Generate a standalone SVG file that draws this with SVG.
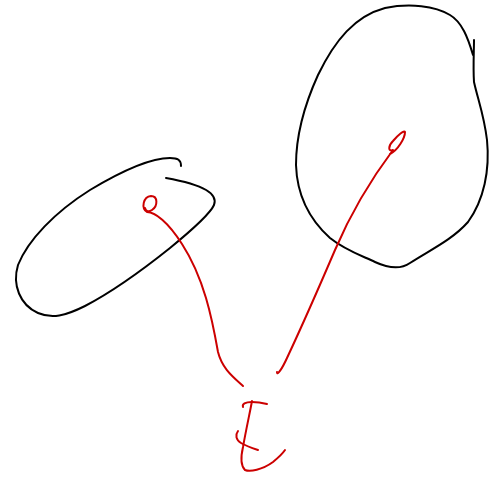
<svg xmlns="http://www.w3.org/2000/svg" width="504" height="477" viewBox="0 0 504 477">
<style>
.blk{fill:none;stroke:#000;stroke-width:2;stroke-linecap:round;stroke-linejoin:round}
.red{fill:none;stroke:#cc0000;stroke-width:2;stroke-linecap:round;stroke-linejoin:round}
</style>
<rect width="504" height="477" fill="#fff"/>
<g id="left-blob">
<path class="blk" d="M181,166 C181,160 178,158 170,158 C150,158 120,172 90,190 C55,212 28,240 18,265 C12,285 20,305 38,313 C52,319 65,316 85,306 C110,293 140,272 170,248 C192,230 210,214 214,205 C218,194 205,185 166,178"/>
</g>
<g id="right-blob">
<path class="blk" d="M473,55 C468,38 462,22 450,15 C435,6 410,3 385,8 C355,16 335,40 318,75 C303,108 296,140 296,165 C297,195 310,220 330,238 C345,250 360,255 375,262 C388,268 400,270 410,263 C430,250 452,240 468,222 C484,200 490,170 487,140 C484,115 478,100 474,82 C473,68 474,50 474,40"/>
</g>
<g id="connectors">
<path class="red" d="M243,386 C232,376 222,368 218,352 C212,318 204,278 182,244 C168,222 155,212 147,212 C141,208 143,197 151,196 C158,196 158,206 152,210 C149,212 146,212 145,208"/>
<path class="red" d="M277,372 C277,376 282,369 287,358 C302,326 320,285 335,250 C350,215 372,178 393,150 C388,152 388,146 393,141 C398,135 404,130 405,132 C405,138 398,150 390,154"/>
</g>
<g id="label-I">
<path class="red" d="M243,407 C242,404 245,402 252,402 C258,402 263,403 267,404"/>
<path class="red" d="M252,401 C250,412 246,430 243,447 C240,460 241,466 245,470 C250,472 262,470 273,462 C279,457 283,453 285,450"/>
<path class="red" d="M238,431 C235,435 236,440 241,443 C246,446 252,448 258,450"/>
</g>
</svg>
